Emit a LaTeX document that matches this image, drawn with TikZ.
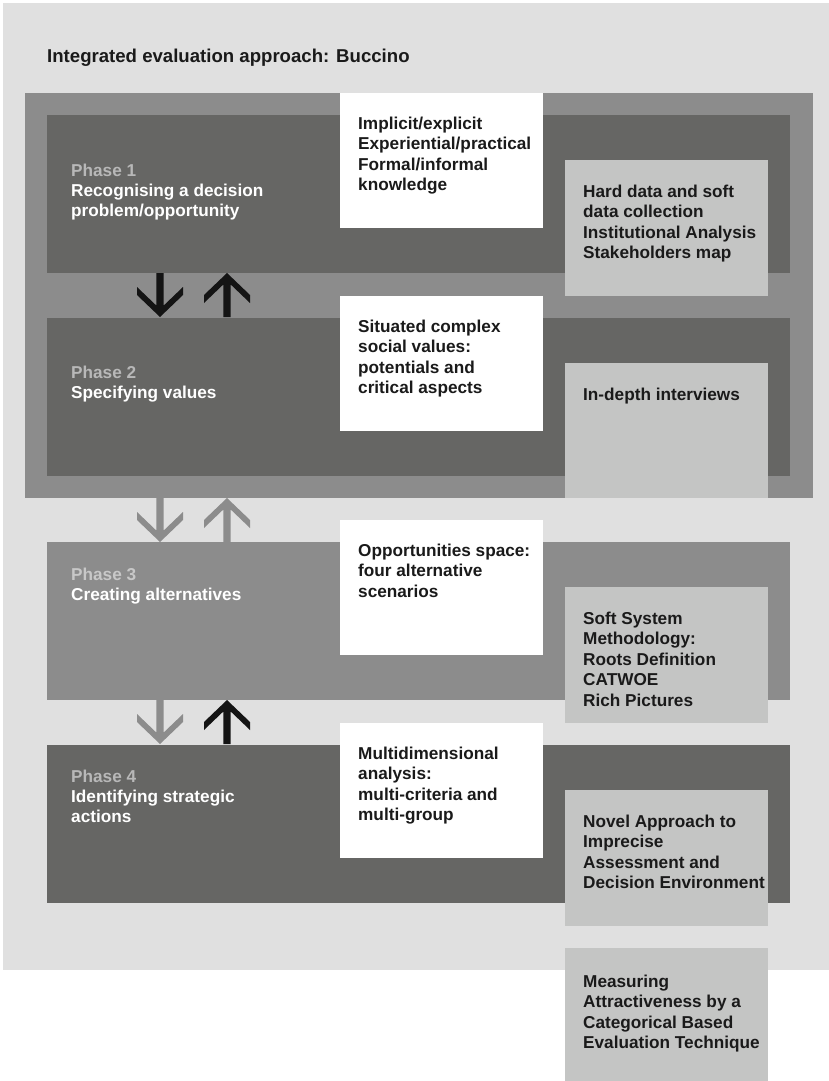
\documentclass[tikz,border=0pt]{standalone}
\usepackage{fontspec}
\setmainfont{Liberation Sans}
\definecolor{bgc}{HTML}{E0E0E0}
\definecolor{midc}{HTML}{8C8C8C}
\definecolor{darkc}{HTML}{666664}
\definecolor{lightc}{HTML}{C4C5C4}
\definecolor{txtc}{HTML}{1A1A1A}
\definecolor{arrk}{HTML}{141414}
\definecolor{phl}{HTML}{B8B8B8}
\definecolor{phlb}{HTML}{C8C8C8}
\begin{document}
\begin{tikzpicture}[x=1pt,y=-1pt,
  box/.style={anchor=north west,inner sep=0pt,outer sep=0pt,draw=none},
  phasebox/.style={box,minimum width=743pt,minimum height=158pt},
  infow/.style={box,fill=white,minimum width=203pt,minimum height=135pt},
  infol/.style={box,fill=lightc,minimum width=203pt,minimum height=136pt},
  txt/.style={anchor=base west,inner sep=0pt,align=left,text=txtc,
    font=\fontsize{17.2}{20.6}\selectfont\bfseries},
  phtxt/.style={anchor=base west,inner sep=0pt,align=left,text=white,
    font=\fontsize{17.2}{20}\selectfont\bfseries},
  downarr/.pic={\fill (-3.6,0) -- (3.6,0) -- (3.6,32.6) -- (23,14) -- (23,22) -- (0,44) -- (-23,22) -- (-23,14) -- (-3.6,32.6) -- cycle;},
  uparr/.pic={\fill (0,0) -- (23,22) -- (23,30) -- (3.6,11.4) -- (3.6,44) -- (-3.6,44) -- (-3.6,11.4) -- (-23,30) -- (-23,22) -- cycle;}
]
\useasboundingbox (0,0) rectangle (829,1081);
\node[box,fill=bgc,minimum width=826pt,minimum height=967pt] (bg) at (3,3) {};
\node[txt,font=\fontsize{18.6}{22}\selectfont\bfseries] (title) at (47,63) {Integrated evaluation approach: Buccino};
\node[box,fill=midc,minimum width=788pt,minimum height=405pt] (frame) at (25,93) {};

\node[phasebox,fill=darkc] (p1) at (47,115) {};
\node[phasebox,fill=darkc] (p2) at (47,318) {};
\node[phasebox,fill=midc] (p3) at (47,542) {};
\node[phasebox,fill=darkc] (p4) at (47,745) {};

% base anchor = last line baseline
\node[phtxt] (p1t) at (71,216) {{\color{phl}Phase 1}\\Recognising a decision\\problem/opportunity};
\node[phtxt] (p2t) at (71,398) {{\color{phl}Phase 2}\\Specifying values};
\node[phtxt] (p3t) at (71,600) {{\color{phlb}Phase 3}\\Creating alternatives};
\node[phtxt] (p4t) at (71,822) {{\color{phl}Phase 4}\\Identifying strategic\\actions};

\node[infow] (w1) at (340,93) {};
\node[infow] (w2) at (340,296) {};
\node[infow] (w3) at (340,520) {};
\node[infow] (w4) at (340,723) {};
\node[txt] (w1t) at (358,190.8) {Implicit/explicit\\Experiential/practical\\Formal/informal\\knowledge};
\node[txt] (w2t) at (358,393.8) {Situated complex\\social values:\\potentials and\\critical aspects};
\node[txt] (w3t) at (358,597.2) {Opportunities space:\\four alternative\\scenarios};
\node[txt] (w4t) at (358,820.8) {Multidimensional\\analysis:\\multi-criteria and\\multi-group};

\node[infol] (l1) at (565,160) {};
\node[infol,minimum height=135pt] (l2) at (565,363) {};
\node[infol] (l3) at (565,587) {};
\node[infol] (l4) at (565,790) {};
\node[infol,minimum height=133pt] (l5) at (565,948) {};
\node[txt] (l1t) at (583,258.8) {Hard data and soft\\data collection\\Institutional Analysis\\Stakeholders map};
\node[txt] (l2t) at (583,400) {In-depth interviews};
\node[txt] (l3t) at (583,706.4) {Soft System\\Methodology:\\Roots Definition\\CATWOE\\Rich Pictures};
\node[txt] (l4t) at (583,888.8) {Novel Approach to\\Imprecise\\Assessment and\\Decision Environment};
\node[txt] (l5t) at (583,1048.8) {Measuring\\Attractiveness by a\\Categorical Based\\Evaluation Technique};

\pic[color=arrk] at (160,273) {downarr};
\pic[color=arrk] at (227,273) {uparr};
\pic[color=midc] at (160,498) {downarr};
\pic[color=midc] at (227,498) {uparr};
\pic[color=midc] at (160,700) {downarr};
\pic[color=arrk] at (227,700) {uparr};
\end{tikzpicture}
\end{document}
